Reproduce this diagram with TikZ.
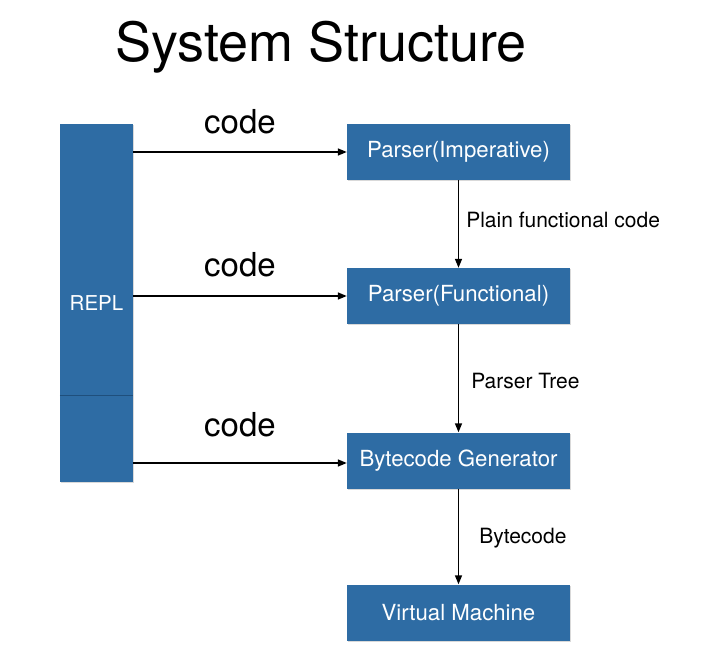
\documentclass[tikz,border=0pt]{standalone}
\usepackage{fontspec}
\setmainfont{TeX Gyre Heros}
\usepackage{tikz}
\usetikzlibrary{arrows.meta,positioning,shadows}
\definecolor{BoxBlue}{HTML}{2E6CA4}
\definecolor{LineBlue}{HTML}{1F4F7C}
\tikzset{
    % blue boxes with a faint shadow
    stagebox/.style={
        rectangle,
        fill=BoxBlue,
        draw=none,
        minimum width=223pt,
        minimum height=56pt,
        text=white,
        align=center,
        font=\fontsize{22.2}{26}\selectfont,
        drop shadow={shadow xshift=0.8pt, shadow yshift=-1.2pt, opacity=0.3}
    },
    replbox/.style={
        stagebox,
        minimum width=73pt,
        minimum height=358pt,
        font=\fontsize{20.5}{24}\selectfont
    },
    arrow/.style={
        -{Triangle[length=9pt,width=7pt]},
        line width=1.5pt,
        color=black
    },
    codelabel/.style={
        font=\fontsize{33}{38}\selectfont,
        inner sep=0pt
    },
    edgelabel/.style={
        font=\fontsize{21}{25}\selectfont,
        inner sep=0pt
    }
}
\begin{document}
\begin{tikzpicture}[x=1pt, y=-1pt]
    \useasboundingbox (0,0) rectangle (712,661);
    \node[font=\fontsize{54}{60}\selectfont, anchor=base] (title) at (321,62) {System Structure};

    \node[replbox] (repl) at (96.5,303) {REPL};
    \draw[LineBlue, line width=0.6pt] ([yshift=87pt]repl.south west) -- ([yshift=87pt]repl.south east);

    \node[stagebox] (imp) at (458.5,152) {Parser(Imperative)};
    \node[stagebox] (func) at (458.5,296) {Parser(Functional)};
    \node[stagebox] (gen) at (458.5,460.5) {Bytecode Generator};
    \node[stagebox] (vm) at (458.5,612.5) {Virtual Machine};

    % code from the REPL
    \draw[arrow] (repl.east |- imp.west) -- node[codelabel, above=17pt] {code} (imp.west);
    \draw[arrow] (repl.east |- func.west) -- node[codelabel, above=18pt] {code} (func.west);
    \draw[arrow] ([yshift=-2.5pt]repl.east |- gen.west) -- node[codelabel, above=25pt] {code} ([yshift=-2.5pt]gen.west);

    % pipeline
    \draw[arrow] (imp.south) -- node[edgelabel, right=7pt, yshift=4pt] {Plain functional code} (func.north);
    \draw[arrow] (func.south) -- node[edgelabel, right=12pt, yshift=-3pt] {Parser Tree} (gen.north);
    \draw[arrow] (gen.south) -- node[edgelabel, right=20pt, yshift=-2pt] {Bytecode} (vm.north);
\end{tikzpicture}
\end{document}
